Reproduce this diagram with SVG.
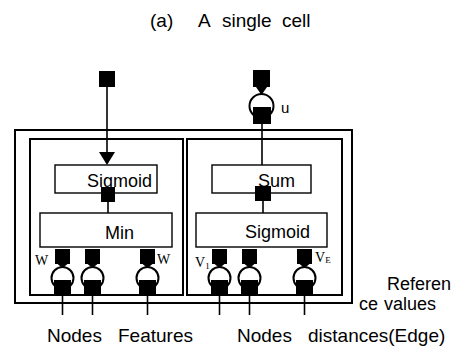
<svg xmlns="http://www.w3.org/2000/svg" width="459" height="351" viewBox="0 0 459 351">
<style>
text{font-family:"Liberation Sans",Arial,sans-serif;fill:#000}
.t{font-size:19px}
.r{font-size:18px}
.f{font-size:18px}
.s{font-family:"Liberation Serif","Times New Roman",serif;font-size:14px}
.sub{font-family:"Liberation Serif","Times New Roman",serif;font-size:9px}
.frame{fill:none;stroke:#000;stroke-width:2}
.box{fill:#fff;stroke:#000;stroke-width:1.4}
.ln{fill:none;stroke:#000;stroke-width:1.6}
.blk{fill:#000}
.ring{fill:#fff;stroke:#000;stroke-width:2}
</style>
<defs>
<g id="syn">
<rect class="blk" x="-7.5" y="0" width="15" height="15"/>
<polygon class="blk" points="-5,15 5,15 0,19"/>
<circle class="ring" cx="0" cy="29" r="11"/>
<rect class="blk" x="-8.5" y="31" width="17" height="15"/>
<line class="ln" x1="0" y1="46" x2="0" y2="66"/>
</g>
</defs>
<rect width="459" height="351" fill="#fff"/>
<text class="t" x="150" y="27">(a)</text>
<text class="t" x="198" y="27">A</text>
<text class="t" x="222" y="27">single</text>
<text class="t" x="282" y="27">cell</text>
<g id="frames">
<rect class="frame" x="15" y="130" width="337" height="173"/>
<rect class="frame" x="30" y="139" width="153" height="156"/>
<rect class="frame" x="187" y="139" width="155" height="156"/>
</g>
<g id="connectors">
<line class="ln" x1="107" y1="87" x2="107" y2="153"/>
<polygon class="blk" points="99,152 115,152 107,165"/>
<line class="ln" x1="108" y1="202" x2="108" y2="213"/>
<line class="ln" x1="262" y1="124" x2="262" y2="165"/>
<line class="ln" x1="263" y1="201" x2="263" y2="213"/>
</g>
<g id="input-top-left">
<rect class="blk" x="99" y="71" width="16" height="16"/>
</g>
<g id="input-top-right">
<rect class="blk" x="253" y="70" width="17" height="17"/>
<polygon class="blk" points="256,87 267,87 261.5,95"/>
<circle class="ring" cx="261.5" cy="106" r="12"/>
<rect class="blk" x="253" y="107" width="18" height="17"/>
<text x="281" y="113" style="font-size:15px">u</text>
</g>
<g id="sigmoid-left">
<rect class="box" x="55" y="165" width="102" height="28"/>
<text class="f" x="87" y="187">Sigmoid</text>
<rect class="blk" x="101" y="187" width="14" height="15"/>
</g>
<g id="min">
<rect class="box" x="40" y="213" width="132" height="34"/>
<text class="f" x="105" y="239">Min</text>
</g>
<g id="sum">
<rect class="box" x="212" y="165" width="99" height="28"/>
<text class="f" x="258" y="187">Sum</text>
<rect class="blk" x="255" y="186" width="16" height="15"/>
</g>
<g id="sigmoid-right">
<rect class="box" x="196" y="213" width="131" height="34"/>
<text class="f" x="245" y="238">Sigmoid</text>
</g>
<g id="weights-left">
<use href="#syn" x="62.5" y="249"/>
<use href="#syn" x="92.5" y="249"/>
<use href="#syn" x="147.5" y="249"/>
<text class="s" x="35" y="265">W</text>
<text class="s" x="157" y="264">W</text>
</g>
<g id="weights-right">
<use href="#syn" x="219.5" y="249"/>
<use href="#syn" x="249.5" y="249"/>
<use href="#syn" x="304.5" y="249"/>
<text class="s" x="195" y="267">V<tspan class="sub" dy="2">1</tspan></text>
<text class="s" x="315" y="262">V<tspan class="sub" dy="1">E</tspan></text>
</g>
<g id="labels">
<text class="r" x="387" y="290">Referen</text>
<text class="r" x="359" y="310">ce</text>
<text class="r" x="384" y="310">values</text>
<text class="t" x="47" y="342">Nodes</text>
<text class="t" x="118" y="342">Features</text>
<text class="t" x="237" y="342">Nodes</text>
<text class="t" x="308" y="342">distances(Edge)</text>
</g>
</svg>
